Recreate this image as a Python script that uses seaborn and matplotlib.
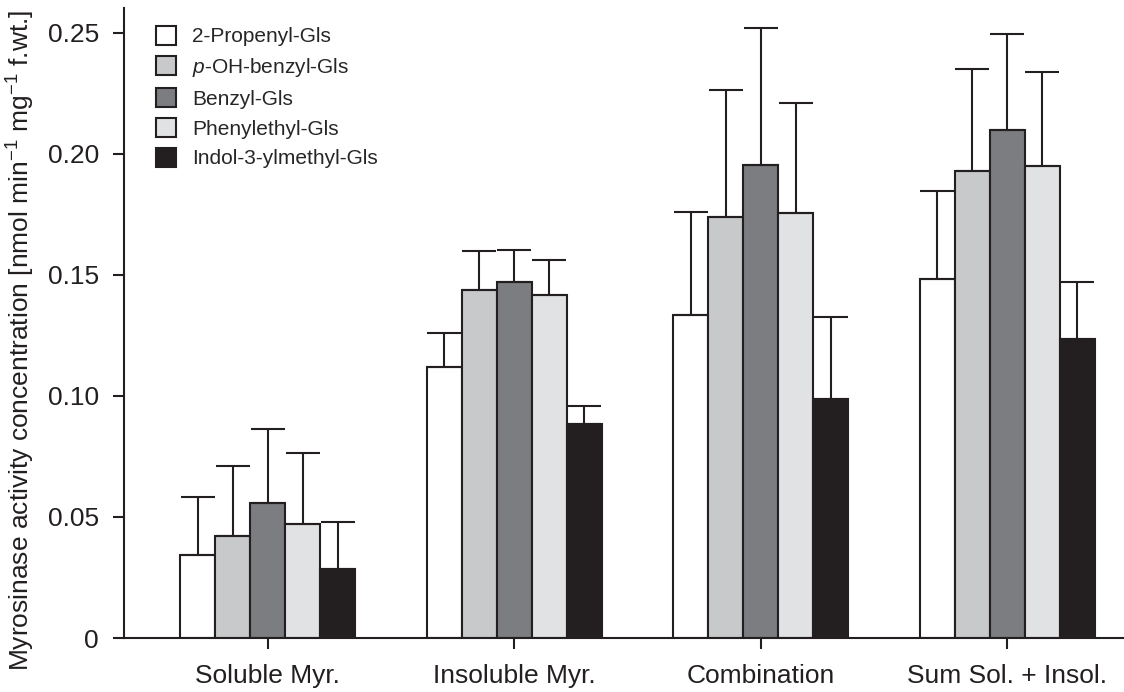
import matplotlib
matplotlib.use("Agg")
import matplotlib.pyplot as plt
import numpy as np
import pandas as pd
import seaborn as sns

categories = ["Soluble Myr.", "Insoluble Myr.", "Combination", "Sum Sol. + Insol."]
series = ["2-Propenyl-Gls", "$\\it{p}$-OH-benzyl-Gls", "Benzyl-Gls",
          "Phenylethyl-Gls", "Indol-3-ylmethyl-Gls"]

# mean activity per series, one value per category
propenyl = [0.0342, 0.1120, 0.1334, 0.1484]
oh_benzyl = [0.0420, 0.1438, 0.1738, 0.1928]
benzyl = [0.0556, 0.1468, 0.1955, 0.2099]
phenylethyl = [0.0469, 0.1418, 0.1753, 0.1950]
indolyl = [0.0287, 0.0882, 0.0988, 0.1234]

# standard deviations (upper error bars only)
propenyl_sd = [0.0240, 0.0140, 0.0426, 0.0363]
oh_benzyl_sd = [0.0290, 0.0159, 0.0523, 0.0423]
benzyl_sd = [0.0309, 0.0134, 0.0564, 0.0395]
phenylethyl_sd = [0.0296, 0.0142, 0.0457, 0.0389]
indolyl_sd = [0.0193, 0.0075, 0.0338, 0.0238]

means = [propenyl, oh_benzyl, benzyl, phenylethyl, indolyl]
sds = [propenyl_sd, oh_benzyl_sd, benzyl_sd, phenylethyl_sd, indolyl_sd]
colors = ["#ffffff", "#c8c9cb", "#7c7d81", "#e1e2e4", "#231f20"]
ink = "#231f20"

rows = []
for s, vals, errs in zip(series, means, sds):
    for c, v, e in zip(categories, vals, errs):
        rows.append({"category": c, "series": s, "value": v, "sd": e})
df = pd.DataFrame(rows)

sns.set_style("ticks")
plt.rcParams["font.family"] = ["Liberation Sans", "DejaVu Sans"]
plt.rcParams["mathtext.fontset"] = "custom"
plt.rcParams["mathtext.rm"] = "Liberation Sans"
plt.rcParams["mathtext.it"] = "Liberation Sans:italic"
plt.rcParams["mathtext.default"] = "regular"

fig = plt.figure(figsize=(11.24, 6.92), dpi=100)
ax = fig.add_axes([0.1103, 0.078, 0.8897, 0.910])

sns.barplot(data=df, x="category", y="value", hue="series", order=categories,
            hue_order=series, palette=colors, edgecolor=ink, linewidth=1.5,
            width=0.71, errorbar=None, saturation=1, ax=ax)

# upper-only error bars placed on each drawn bar
for container, s in zip(ax.containers, series):
    sub = df[df["series"] == s].set_index("category").loc[categories]
    xs = [p.get_x() + p.get_width() / 2 for p in container.patches]
    hs = [p.get_height() for p in container.patches]
    ax.errorbar(xs, hs, yerr=[np.zeros(len(xs)), sub["sd"].values], fmt="none",
                ecolor=ink, elinewidth=1.5, capsize=12.5, capthick=1.5, zorder=1)

ax.set_ylim(0, 0.26)
ax.set_xlim(-0.583, 3.474)
ax.set_yticks([0, 0.05, 0.10, 0.15, 0.20, 0.25],
              ["0", "0.05", "0.10", "0.15", "0.20", "0.25"])
ax.set_xlabel("")
ax.set_ylabel("Myrosinase activity concentration [nmol min$^{-1}$ mg$^{-1}$ f.wt.]",
              fontsize=19, color=ink)
ax.yaxis.set_label_coords(-0.087, 0.473)

for side in ["top", "right"]:
    ax.spines[side].set_visible(False)
for side in ["left", "bottom"]:
    ax.spines[side].set_color(ink)
    ax.spines[side].set_linewidth(1.5)
ax.tick_params(axis="both", colors=ink, labelcolor=ink, width=1.5, length=8,
               labelsize=19, direction="out")
ax.tick_params(axis="x", pad=11)
ax.tick_params(axis="y", pad=10)

handles, labels = ax.get_legend_handles_labels()
ax.legend(handles, labels, loc="upper left", bbox_to_anchor=(0.017, 0.995),
          frameon=False, fontsize=15, handlelength=1.0, handleheight=1.0,
          handletextpad=0.75, labelspacing=0.45, borderaxespad=0.3)

fig.savefig("out.png", dpi=100)
